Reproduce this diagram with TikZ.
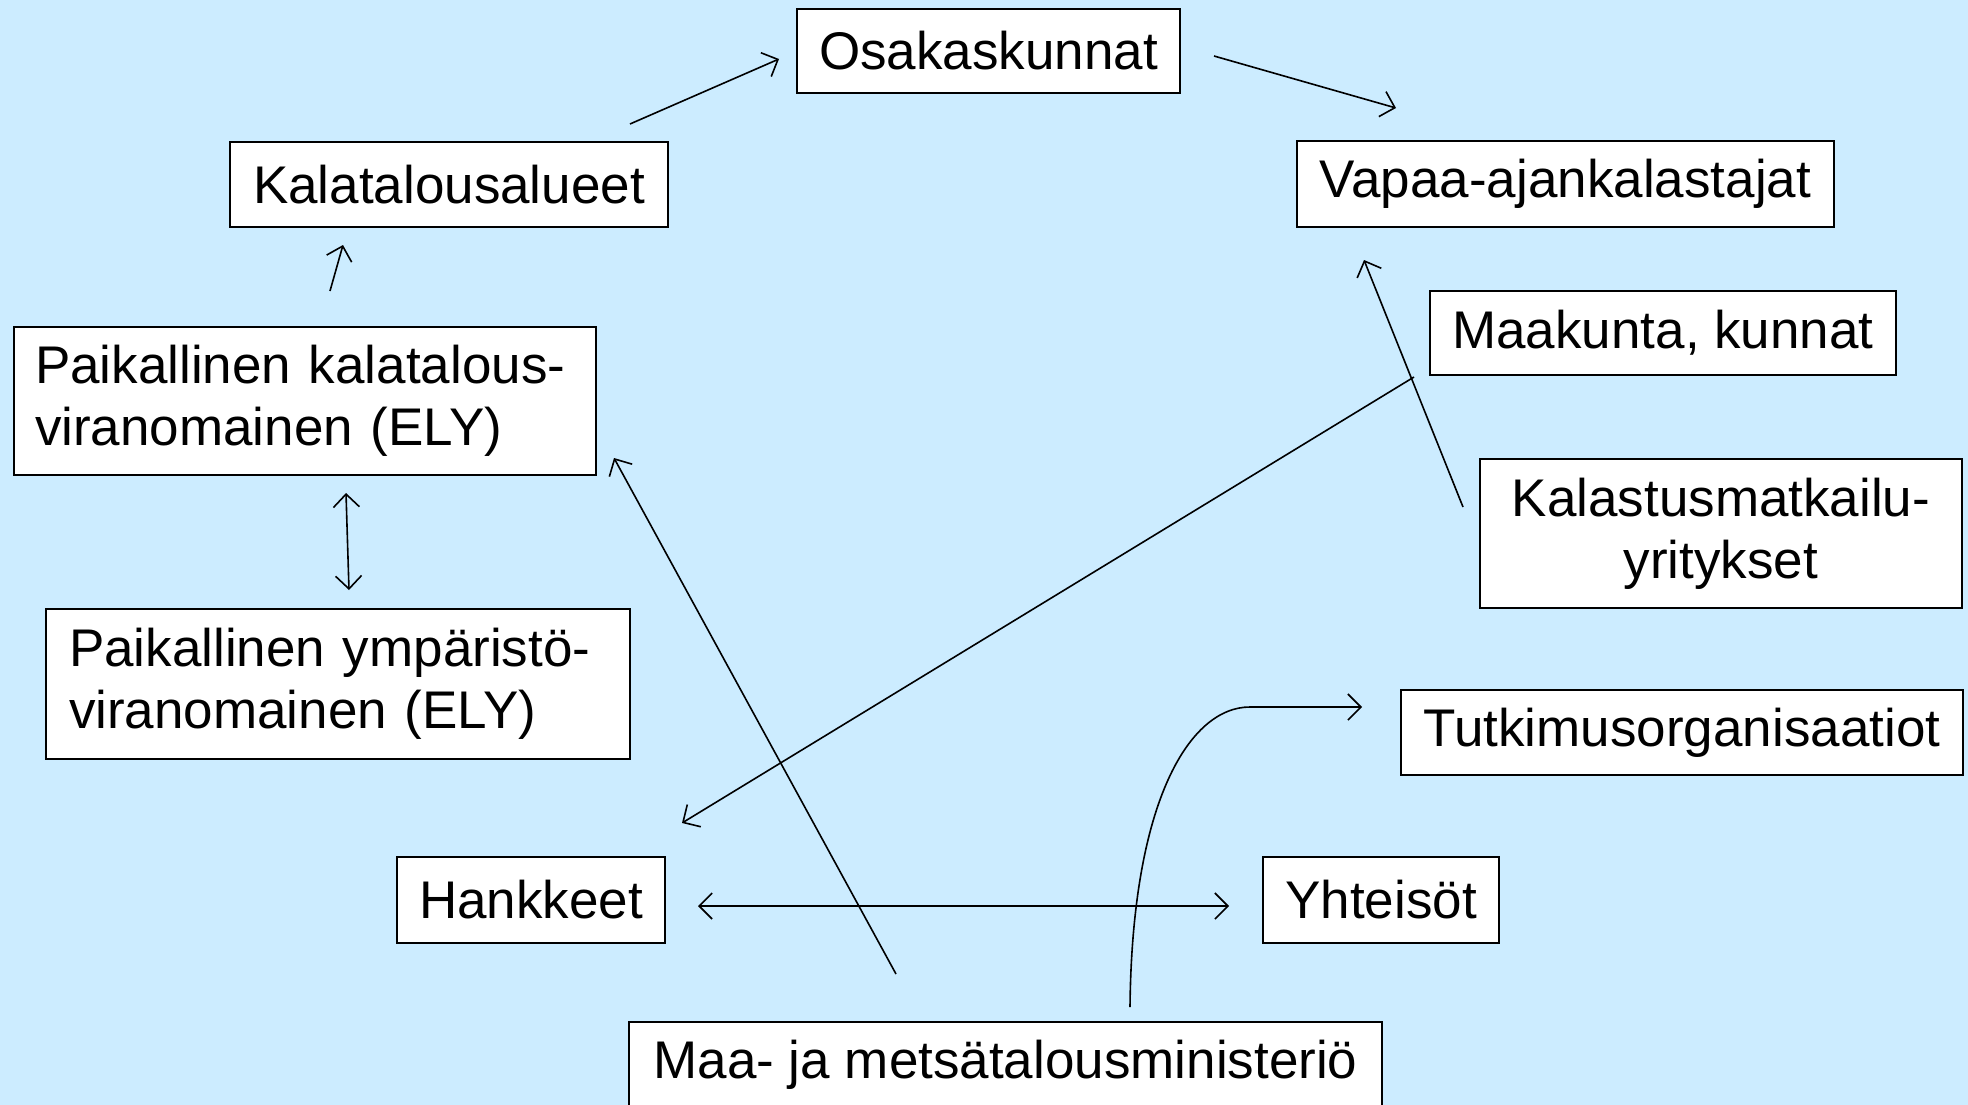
\documentclass[tikz,border=0pt]{standalone}
\usepackage{fontspec}
\setmainfont{Liberation Sans}
\usetikzlibrary{arrows.meta}
\definecolor{bgblue}{RGB}{204,236,255}
\begin{document}
\begin{tikzpicture}[x=1pt,y=-1pt,
  box/.style={draw=black, fill=white, line width=1.6pt, inner sep=0pt,
    font=\fontsize{53}{62}\selectfont},
  conn/.style={line width=1.6pt, -{Straight Barb[length=13pt,width=26pt,line width=1.6pt]}},
  dconn/.style={line width=1.6pt, {Straight Barb[length=13pt,width=26pt,line width=1.6pt]}-{Straight Barb[length=13pt,width=26pt,line width=1.6pt]}}]
\fill[bgblue] (0,0) rectangle (1968,1105);
\useasboundingbox (0,0) rectangle (1968,1105);

\node[box, minimum width=383pt, minimum height=84pt] (osa) at (988.5,51) {Osakaskunnat};
\node[box, minimum width=438pt, minimum height=85pt] (kal) at (449,184.5) {Kalatalousalueet};
\node[box, minimum width=537pt, minimum height=86pt] (vap) at (1565.5,184) {Vapaa-ajankalastajat};
\node[box, minimum width=466pt, minimum height=84pt] (maa) at (1663,333) {Maakunta, kunnat};
\node[box, minimum width=582pt, minimum height=148pt, inner xsep=21pt, text width=540pt, align=left] (pkv) at (305,401) {Paikallinen kalatalous-\\viranomainen (ELY)};
\node[box, minimum width=482pt, minimum height=149pt, align=center] (kmy) at (1721,533.5) {Kalastusmatkailu-\\yritykset};
\node[box, minimum width=584pt, minimum height=150pt, inner xsep=23pt, text width=538pt, align=left] (pyv) at (338,684) {Paikallinen ympäristö-\\viranomainen (ELY)};
\node[box, minimum width=562pt, minimum height=85pt] (tut) at (1682,732.5) {Tutkimusorganisaatiot};
\node[box, minimum width=268pt, minimum height=86pt] (han) at (531,900) {Hankkeet};
\node[box, minimum width=236pt, minimum height=86pt] (yht) at (1381,900) {Yhteisöt};
\node[box, minimum width=753pt, minimum height=86pt] (mmm) at (1005.5,1065) {Maa- ja metsätalousministeriö};

% connector end points
\coordinate (kalOut) at (630,124);
\coordinate (osaIn) at (779,59);
\coordinate (osaOut) at (1214,56);
\coordinate (vapIn) at (1396,108);
\coordinate (pkvOut) at (330,291);
\coordinate (kalIn) at (343,245);
\coordinate (pkvB) at (346,493);
\coordinate (pyvT) at (349,590);
\coordinate (mmmOutA) at (896,974);
\coordinate (pkvIn) at (614,458);
\coordinate (maaOut) at (1414,377);
\coordinate (hanIn) at (682,823);
\coordinate (kmyOut) at (1463,507);
\coordinate (vapIn2) at (1364,260);
\coordinate (hanR) at (698,906);
\coordinate (yhtL) at (1229,906);
\coordinate (mmmOutB) at (1130,1007);
\coordinate (tutIn) at (1362,707);

\draw[conn] (kalOut) -- (osaIn);
\draw[conn] (osaOut) -- (vapIn);
\draw[conn] (pkvOut) -- (kalIn);
\draw[dconn] (pkvB) -- (pyvT);
\draw[conn] (mmmOutA) -- (pkvIn);
\draw[conn] (maaOut) -- (hanIn);
\draw[conn] (kmyOut) -- (vapIn2);
\draw[dconn] (hanR) -- (yhtL);
\draw[conn] (mmmOutB) .. controls (1132,800) and (1190,707) .. (1250,707) -- (tutIn);
\end{tikzpicture}
\end{document}
